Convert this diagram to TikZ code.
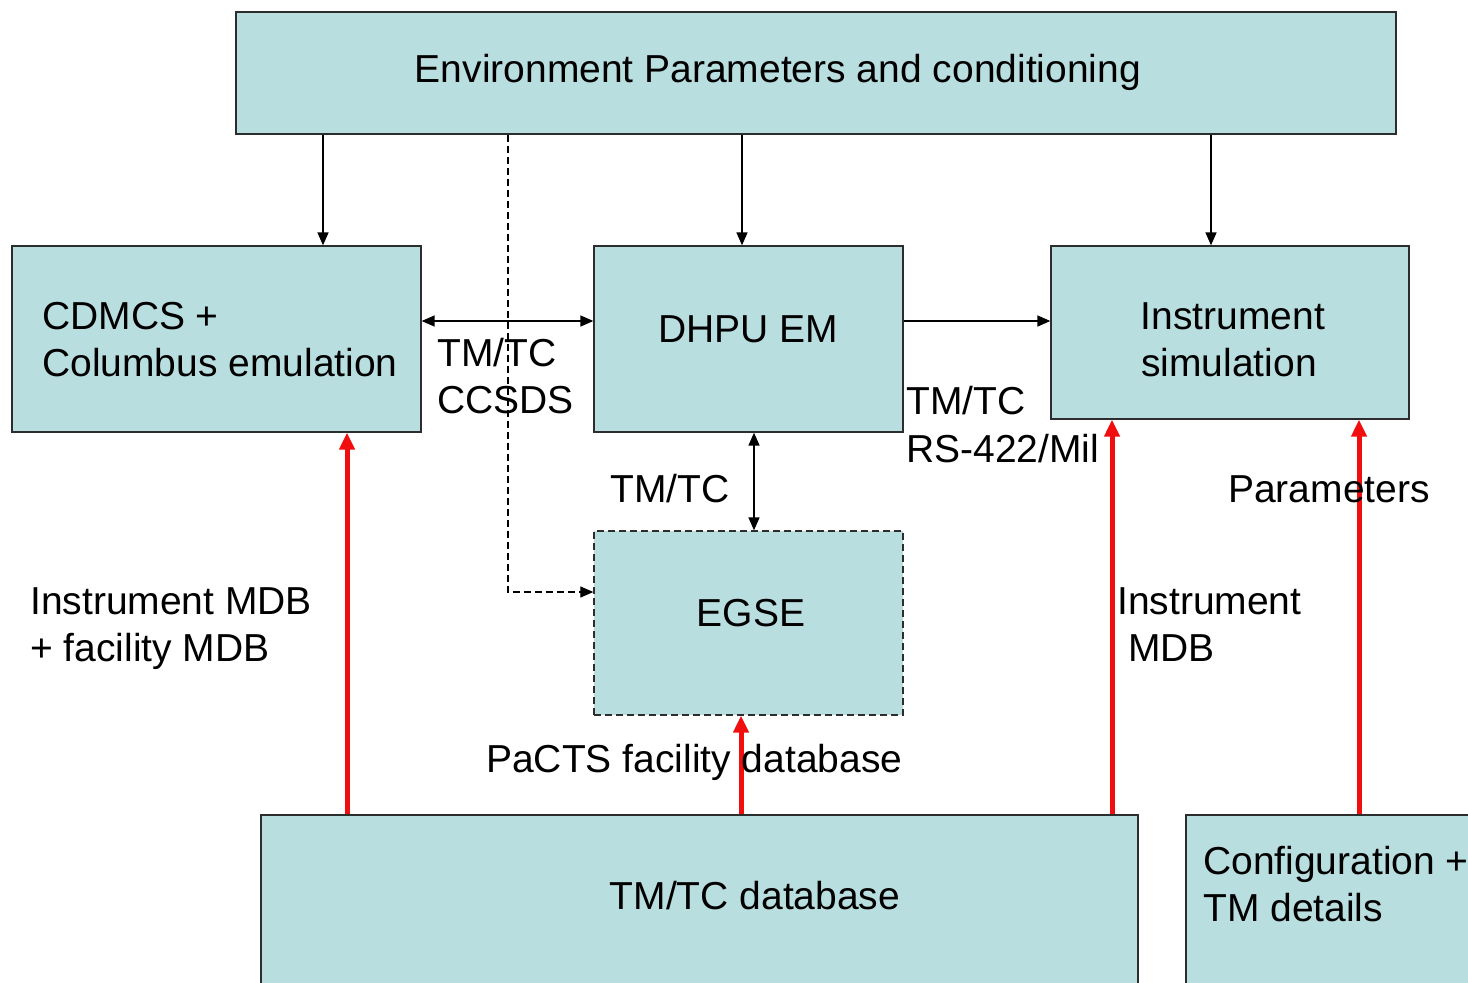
\documentclass[tikz,border=0pt]{standalone}
\usepackage{fontspec}
\setmainfont{Liberation Sans}
\usetikzlibrary{arrows.meta}
\definecolor{boxfill}{RGB}{185,222,224}
\definecolor{boxline}{RGB}{45,45,45}
\definecolor{mdbred}{RGB}{240,14,14}
\begin{document}
\begin{tikzpicture}[x=1pt,y=-1pt,
  font=\fontsize{39}{47}\selectfont,
  box/.style={draw=boxline, line width=1.3pt, fill=boxfill, inner sep=0pt},
  dashbox/.style={box, dash pattern=on 7pt off 4pt},
  tip/.tip={Triangle[length=13pt,width=11pt]},
  flow/.style={draw=black, line width=1.4pt, -tip},
  both/.style={draw=black, line width=1.4pt, tip-tip},
  dflow/.style={flow, line width=1.1pt, dash pattern=on 7pt off 4pt},
  mdb/.style={draw=mdbred, line width=5pt, -{Triangle[length=17pt,width=15pt]}},
  ctxt/.style={inner sep=0pt, anchor=base},
  ltxt/.style={inner sep=0pt, anchor=base west}]

\useasboundingbox (0,0) rectangle (1468,983);
\clip (0,0) rectangle (1468,983);

% boxes
\node[box, minimum width=1160pt, minimum height=122pt] (env)    at (816,73)    {};
\node[box, minimum width=409pt,  minimum height=186pt] (cdmcs)  at (216.5,339) {};
\node[box, minimum width=309pt,  minimum height=186pt] (dhpu)   at (748.5,339) {};
\node[box, minimum width=358pt,  minimum height=173pt] (inst)   at (1230,332.5){};
\node[dashbox, minimum width=309pt, minimum height=184pt] (egse) at (748.5,623) {};
\node[box, minimum width=877pt,  minimum height=185pt] (tmdb)   at (699.5,907.5){};
\node[box, minimum width=314pt,  minimum height=185pt] (config) at (1343,907.5) {};

% box texts
\node[ctxt] (envt)  at (778,82)  {Environment Parameters and conditioning};
\node[ltxt] (cdt1)  at (42,329)  {CDMCS +};
\node[ltxt] (cdt2)  at (42,376)  {Columbus emulation};
\node[ctxt] (dht)   at (748,342) {DHPU EM};
\node[ctxt] (ist1)  at (1233,329){Instrument};
\node[ctxt] (ist2)  at (1229,376){simulation};
\node[ctxt] (egt)   at (751,626) {EGSE};
\node[ctxt] (tmt)   at (755,909) {TM/TC database};
\node[ltxt] (cft1)  at (1203,874){Configuration +};
\node[ltxt] (cft2)  at (1203,921){TM details};

% environment feeds
\draw[flow] (323,0 |- env.south)  -- (323,0 |- cdmcs.north);
\draw[flow] (742,0 |- env.south)  -- (742,0 |- dhpu.north);
\draw[flow] (1211,0 |- env.south) -- (1211,0 |- inst.north);
\draw[dflow] (508,0 |- env.south) |- (egse.west |- 0,592);

% TM/TC links
\draw[both] (cdmcs.east |- 0,321) -- (dhpu.west |- 0,321);
\draw[flow] (dhpu.east |- 0,321)  -- (inst.west |- 0,321);
\draw[both] (754,0 |- dhpu.south) -- (754,0 |- egse.north);

% database flows
\draw[mdb] (347,0 |- tmdb.north)    -- (347,0 |- cdmcs.south);
\draw[mdb] (741,0 |- tmdb.north)    -- (741,0 |- egse.south);
\draw[mdb] (1112,0 |- tmdb.north)   -- (1112,0 |- inst.south);
\draw[mdb] (1359,0 |- config.north) -- (1359,0 |- inst.south);

% link labels
\node[ltxt] (l1a) at (437,366)  {TM/TC};
\node[ltxt] (l1b) at (437,413)  {CCSDS};
\node[ltxt] (l2a) at (906,414)  {TM/TC};
\node[ltxt] (l2b) at (906,462)  {RS-422/Mil};
\node[ltxt] (l3)  at (610,502)  {TM/TC};
\node[ltxt] (l4)  at (1228,502) {Parameters};
\node[ltxt] (l5a) at (30,614)   {Instrument MDB};
\node[ltxt] (l5b) at (30,661)   {+ facility MDB};
\node[ltxt] (l6a) at (1117,614) {Instrument};
\node[ltxt] (l6b) at (1128,661) {MDB};
\node[ltxt] (l7)  at (486,772)  {PaCTS facility database};
\end{tikzpicture}
\end{document}
